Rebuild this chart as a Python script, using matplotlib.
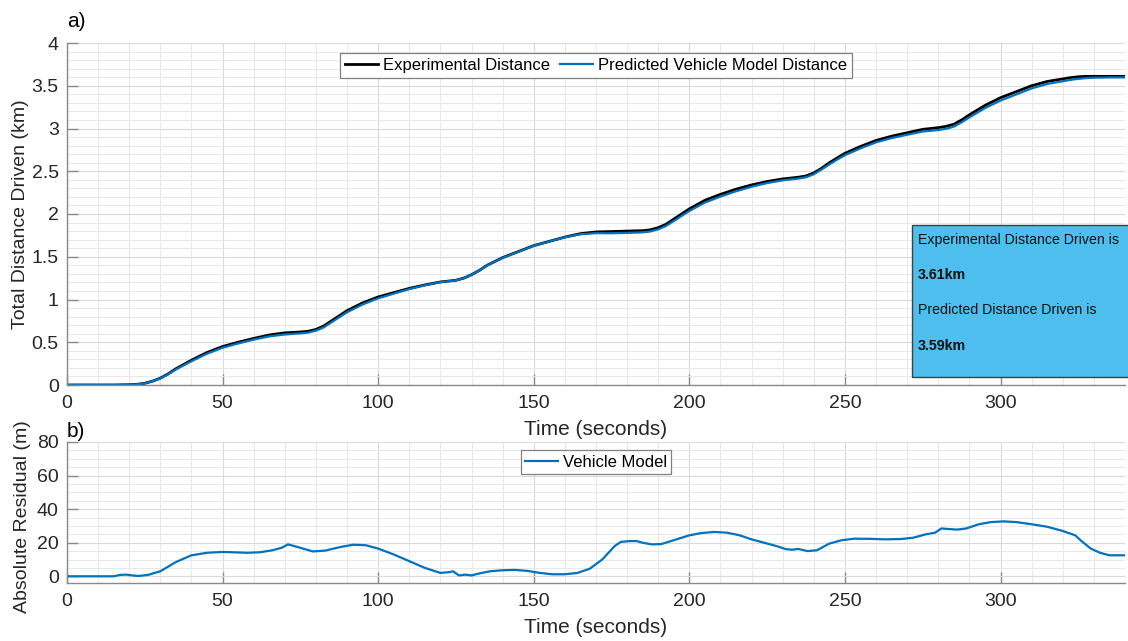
import matplotlib
matplotlib.use("Agg")
import matplotlib.pyplot as plt
from matplotlib.patches import Rectangle
from matplotlib.ticker import MultipleLocator, FuncFormatter

plt.rcParams['font.family'] = ['Liberation Sans', 'DejaVu Sans']

# ---- data ----
time_s = [0, 5, 10, 15, 20, 22.5, 25, 27.5, 30, 32.5, 35, 40, 45, 50, 55, 60, 65, 70, 75, 77.5,
          80, 82.5, 85, 87.5, 90, 95, 100, 105, 110, 115, 120, 122.5, 125, 127.5, 130, 132.5, 135, 140, 145, 150,
          155, 160, 165, 170, 175, 180, 185, 187.5, 190, 192.5, 195, 197.5, 200, 205, 210, 215, 220, 225, 230, 235,
          237.5, 240, 242.5, 245, 247.5, 250, 255, 260, 265, 270, 275, 280, 282.5, 285, 287.5, 290, 292.5, 295, 300, 305,
          310, 315, 320, 322.5, 325, 327.5, 330, 335, 340]
experimental_km = [0, 0, 0, 0, 0.003, 0.008, 0.02, 0.045, 0.08, 0.13, 0.19, 0.29, 0.38, 0.45, 0.50, 0.545, 0.585, 0.61, 0.62, 0.628,
                   0.65, 0.69, 0.75, 0.81, 0.87, 0.96, 1.03, 1.08, 1.13, 1.17, 1.205, 1.215, 1.225, 1.25, 1.29, 1.34, 1.40, 1.49, 1.56, 1.63,
                   1.68, 1.73, 1.77, 1.79, 1.795, 1.80, 1.805, 1.815, 1.84, 1.88, 1.94, 2.00, 2.06, 2.16, 2.23, 2.29, 2.34, 2.38, 2.41, 2.43,
                   2.445, 2.48, 2.535, 2.60, 2.655, 2.71, 2.79, 2.86, 2.91, 2.95, 2.99, 3.01, 3.025, 3.05, 3.10, 3.16, 3.215, 3.27, 3.36, 3.43,
                   3.50, 3.55, 3.58, 3.595, 3.605, 3.61, 3.61, 3.61, 3.61]
predicted_km = [0, 0, 0, 0, 0.002, 0.0075, 0.019, 0.044, 0.077, 0.125, 0.182, 0.278, 0.366, 0.4355, 0.486, 0.5305, 0.569, 0.591, 0.604, 0.613,
                0.635, 0.674, 0.733, 0.792, 0.851, 0.942, 1.014, 1.068, 1.122, 1.166, 1.203, 1.213, 1.224, 1.249, 1.29, 1.339, 1.398, 1.487, 1.557, 1.628,
                1.679, 1.728, 1.763, 1.776, 1.775, 1.779, 1.786, 1.796, 1.821, 1.86, 1.918, 1.977, 2.035, 2.134, 2.204, 2.266, 2.319, 2.362, 2.394, 2.414,
                2.43, 2.465, 2.52, 2.581, 2.636, 2.688, 2.768, 2.838, 2.888, 2.927, 2.965, 2.982, 2.997, 3.022, 3.072, 3.13, 3.184, 3.238, 3.3275, 3.398,
                3.469, 3.521, 3.553, 3.569, 3.581, 3.59, 3.594, 3.5975, 3.5975]

res_time_s = [0, 15, 17, 19, 21, 23, 26, 30, 35, 40, 45, 50, 55, 58, 62, 66, 69, 71, 74, 79,
              83, 88, 92, 96, 100, 105, 110, 115, 120, 123, 124, 126, 128, 130, 132, 136, 140, 144, 148, 152,
              156, 160, 164, 168, 172, 176, 178, 181, 183, 185, 188, 191, 195, 200, 204, 208, 212, 216, 220, 224,
              228, 231, 233, 235, 238, 241, 245, 249, 253, 258, 263, 268, 272, 276, 279, 281, 283, 286, 289, 293,
              297, 301, 305, 310, 315, 320, 324, 326, 329, 332, 335, 340]
residual_m = [0, 0, 0.8, 1, 0.5, 0.2, 0.8, 3, 8.5, 12.5, 14, 14.5, 14.2, 14, 14.3, 15.5, 17, 19, 17.5, 14.8,
              15.3, 17.5, 18.8, 18.5, 16.5, 13, 9, 5, 2, 2.5, 3, 0.5, 1, 0.5, 1.5, 3, 3.6, 3.8, 3.2, 2,
              1.2, 1.2, 2, 4.5, 10, 18, 20.5, 21, 21, 20, 19, 19.2, 21.5, 24.4, 25.8, 26.4, 26, 24.5, 22, 20,
              18, 16.2, 15.8, 16.3, 15, 15.5, 19.5, 21.5, 22.4, 22.3, 22, 22.2, 23, 25, 26, 28.5, 28.2, 27.8, 28.5, 31,
              32.3, 32.7, 32.3, 31, 29.5, 27, 24.4, 21, 16.5, 14, 12.5, 12.5]

W, H = 1128, 641
fig = plt.figure(figsize=(W / 100, H / 100), dpi=100)

def ax_rect(l, t, r, b):
    return [l / W, 1 - b / H, (r - l) / W, (b - t) / H]

ax1 = fig.add_axes(ax_rect(67, 43, 1125, 385))
ax2 = fig.add_axes(ax_rect(67, 442, 1125, 583))

TXT = '#262626'
SP = '#8a8a8a'

def style(ax, ymaj, ymin):
    ax.xaxis.set_major_locator(MultipleLocator(50))
    ax.xaxis.set_minor_locator(MultipleLocator(10))
    ax.yaxis.set_major_locator(MultipleLocator(ymaj))
    ax.yaxis.set_minor_locator(MultipleLocator(ymin))
    ax.grid(True, which='major', color='#dadada', linewidth=0.8)
    ax.grid(True, which='minor', color='#e8e8e8', linewidth=0.7)
    ax.set_axisbelow(True)
    for s in ['top', 'right']:
        ax.spines[s].set_visible(False)
    for s in ['left', 'bottom']:
        ax.spines[s].set_color(SP)
        ax.spines[s].set_linewidth(1.0)
    ax.tick_params(which='major', direction='in', length=8, color=SP, labelsize=14, labelcolor=TXT, width=1)
    ax.tick_params(axis='x', which='major', pad=7)
    ax.tick_params(axis='y', which='major', pad=6)
    ax.tick_params(which='minor', length=0)

ax1.plot(time_s, experimental_km, color='black', linewidth=2.0, label='Experimental Distance',
         solid_joinstyle='round')
ax1.plot(time_s, predicted_km, color='#0072BD', linewidth=1.6, label='Predicted Vehicle Model Distance',
         solid_joinstyle='round')
ax1.set_xlim(0, 340)
ax1.set_ylim(0, 4)
style(ax1, 0.5, 0.1)
ax1.yaxis.set_major_formatter(FuncFormatter(lambda v, p: '%g' % v))
ax1.set_xlabel('Time (seconds)', fontsize=15, color=TXT, labelpad=6)
ax1.set_ylabel('Total Distance Driven (km)', fontsize=14, color=TXT)
ax1.yaxis.set_label_coords(-0.036, 0.5)
ax1.text(0.0, 1.035, 'a)', transform=ax1.transAxes, fontsize=15, color='black', ha='left', va='bottom')
leg1 = ax1.legend(loc='upper center', bbox_to_anchor=(0.5, 0.97), ncol=2, fontsize=12, frameon=True,
                  fancybox=False, edgecolor='#808080', framealpha=1, handlelength=2.0, handletextpad=0.3,
                  columnspacing=0.6, borderpad=0.3, borderaxespad=0)
leg1.get_frame().set_linewidth(0.9)

ax2.plot(res_time_s, residual_m, color='#0072BD', linewidth=1.6, label='Vehicle Model', solid_joinstyle='round')
ax2.set_xlim(0, 340)
ax2.set_ylim(-4, 80)
style(ax2, 20, 5)
ax2.set_xlabel('Time (seconds)', fontsize=15, color=TXT, labelpad=6)
ax2.set_ylabel('Absolute Residual (m)', fontsize=14, color=TXT)
ax2.yaxis.set_label_coords(-0.034, 0.47)
ax2.text(0.0, 1.005, 'b)', transform=ax2.transAxes, fontsize=15, color='black', ha='left', va='bottom')
leg2 = ax2.legend(loc='upper center', bbox_to_anchor=(0.5, 0.94), fontsize=12, frameon=True,
                  fancybox=False, edgecolor='#808080', framealpha=1, handlelength=2.0, handletextpad=0.3,
                  borderpad=0.25, borderaxespad=0)
leg2.get_frame().set_linewidth(0.9)

# annotation box
fig.patches.append(Rectangle((912 / W, 1 - 377 / H), 0.3, 152 / H, transform=fig.transFigure,
                             facecolor='#4DBEEE', edgecolor='#404040', linewidth=1.0, zorder=5))
lines = [('Experimental Distance Driven is', 'normal', 240),
         ('3.61km', 'bold', 275),
         ('Predicted Distance Driven is', 'normal', 310),
         ('3.59km', 'bold', 346)]
for s, w, y in lines:
    fig.text(918 / W, 1 - y / H, s, fontsize=10.2, fontweight=w, color='#111111', ha='left', va='center', zorder=6)

fig.savefig('out.png', dpi=100)
